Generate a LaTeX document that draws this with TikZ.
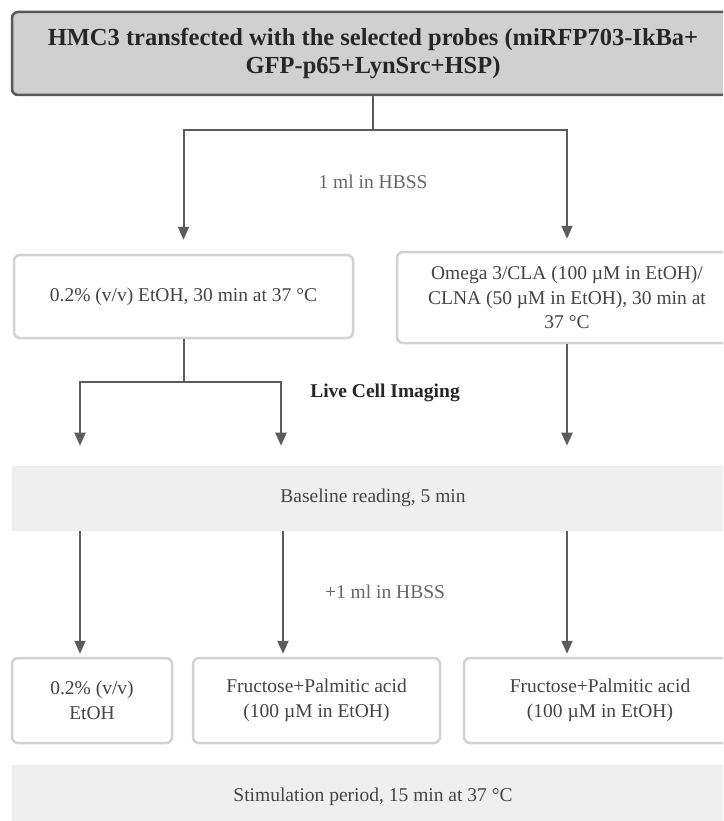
\documentclass[tikz,border=0pt]{standalone}
\usepackage{fontspec}
\setmainfont{Liberation Serif}
\usepackage{xcolor}
\usetikzlibrary{positioning, arrows.meta, calc}
\definecolor{hdrGray}{RGB}{208, 208, 208}
\definecolor{hdrEdge}{RGB}{88, 88, 88}
\definecolor{boxEdge}{RGB}{210, 210, 210}
\definecolor{bandGray}{RGB}{239, 239, 239}
\definecolor{lineGray}{RGB}{92, 92, 92}
\definecolor{txtGray}{RGB}{68, 68, 68}

\begin{document}
\begin{tikzpicture}[
    x=1pt, y=-1pt,
    font=\fontsize{19.5}{24.5}\selectfont\color{txtGray},
    hdr/.style={rectangle, rounded corners=6pt, draw=hdrEdge, line width=2.5pt,
        fill=hdrGray, align=center, text=black!85,
        font=\fontsize{24.5}{28.5}\selectfont\bfseries},
    box/.style={rectangle, rounded corners=6pt, draw=boxEdge, line width=2.5pt,
        fill=white, align=center, inner sep=2pt},
    band/.style={rectangle, draw=black!7, line width=0.6pt, fill=bandGray,
        align=center, minimum width=722pt, minimum height=64pt},
    lbl/.style={text=black!60},
    line/.style={line width=2pt, lineGray},
    arr/.style={-{Triangle[length=13pt, width=11pt]}, line width=2pt, lineGray}
]
\useasboundingbox (0,0) rectangle (723,821);
\clip (0,0) rectangle (723,821);

% boxes
\node[hdr, minimum width=722pt, minimum height=83pt] (top) at (373,53.5)
    {HMC3 transfected with the selected probes (miRFP703-IkBa+\\GFP-p65+LynSrc+HSP)};
\node[box, minimum width=339pt, minimum height=83pt] (ctl) at (183.5,296.5)
    {0.2\% (v/v) EtOH, 30 min at 37 °C};
\node[box, minimum width=340pt, minimum height=91pt] (pre) at (567,297.5)
    {Omega 3/CLA (100 µM in EtOH)/\\CLNA (50 µM in EtOH), 30 min at\\37 °C};
\node[band] (base) at (373,498) {Baseline reading, 5 min};
\node[box, minimum width=160pt, minimum height=85pt] (res1) at (92,700.5)
    {0.2\% (v/v)\\EtOH};
\node[box, minimum width=247pt, minimum height=85pt] (res2) at (316.5,700.5)
    {Fructose+Palmitic acid\\(100 µM in EtOH)};
\node[box, minimum width=272pt, minimum height=85pt] (res3) at (600,700.5)
    {Fructose+Palmitic acid\\(100 µM in EtOH)};
\node[band] (stim) at (373,797) {Stimulation period, 15 min at 37 °C};

% labels
\node[lbl] (hbss1) at (373,182) {1 ml in HBSS};
\node[font=\fontsize{19.5}{24.5}\selectfont\bfseries, text=black!85] (lci) at (385,393) {Live Cell Imaging};
\node[lbl] (hbss2) at (385,592) {+1 ml in HBSS};

% junctions
\coordinate (j1) at (373,130);
\coordinate (j2) at (183.5,382);
\coordinate (c1) at (80,0);
\coordinate (c2) at (281,0);
\coordinate (c4) at (283,0);

\draw[line] (top.south) -- (j1);
\draw[arr, shorten >=14pt] (j1) -| (ctl.north);
\draw[arr, shorten >=12pt] (j1) -| (pre.north);

\draw[line] (ctl.south) -- (j2);
\foreach \c in {c1, c2}
    \draw[arr, shorten >=20pt] (j2) -| (base.north -| \c);
\draw[arr, shorten >=20pt] (pre.south) -- (base.north -| pre.south);

\foreach \c/\r in {c1/res1, c4/res2, pre/res3}
    \draw[arr, shorten <=1pt, shorten >=3pt] (base.south -| \c) -- (\r.north -| \c);
\end{tikzpicture}
\end{document}
